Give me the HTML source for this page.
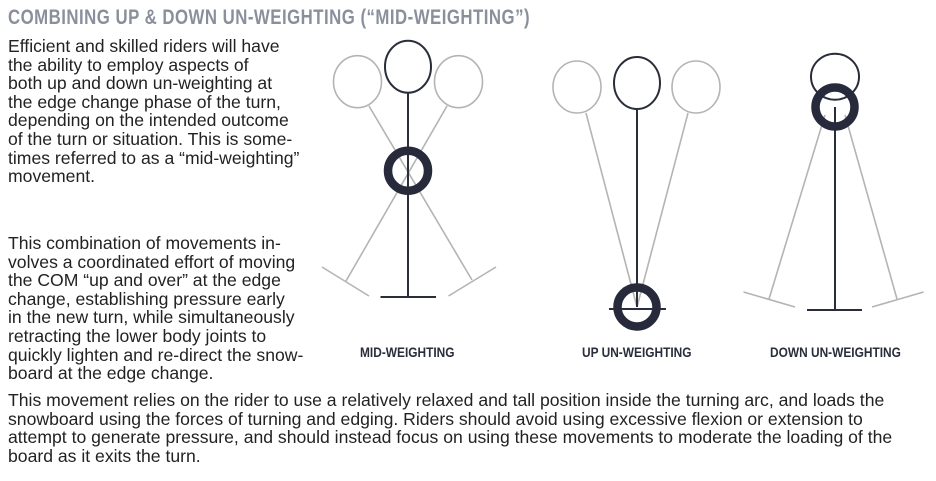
<!DOCTYPE html>
<html><head><meta charset="utf-8"><style>
body{margin:0;width:936px;height:481px;background:#fff;position:relative;overflow:hidden;font-family:"Liberation Sans",sans-serif;color:#222}
.t{position:absolute;font-size:17.6px;line-height:18.6px;white-space:nowrap;left:8px}
.h{position:absolute;left:8px;top:6px;font-family:"Liberation Sans",sans-serif;font-weight:bold;font-size:21px;color:#8a8f9c;letter-spacing:0.6px;white-space:nowrap;transform:scaleX(0.80);transform-origin:left top}
.l{position:absolute;font-family:"Liberation Sans",sans-serif;font-weight:bold;font-size:14px;color:#2a2d3a;white-space:nowrap;top:344px;transform:scaleX(0.85);transform-origin:left top}
svg{position:absolute;left:0;top:0}
</style></head><body>
<div class="h">COMBINING UP &amp; DOWN UN-WEIGHTING (“MID-WEIGHTING”)</div>
<div class="t" style="top:37px">Efficient and skilled riders will have<br>the ability to employ aspects of<br>both up and down un-weighting at<br>the edge change phase of the turn,<br>depending on the intended outcome<br>of the turn or situation. This is some-<br>times referred to as a “mid-weighting”<br>movement.</div>
<div class="t" style="top:234px">This combination of movements in-<br>volves a coordinated effort of moving<br>the COM “up and over” at the edge<br>change, establishing pressure early<br>in the new turn, while simultaneously<br>retracting the lower body joints to<br>quickly lighten and re-direct the snow-<br>board at the edge change.</div>
<div class="t" style="top:391px">This movement relies on the rider to use a relatively relaxed and tall position inside the turning arc, and loads the<br>snowboard using the forces of turning and edging. Riders should avoid using excessive flexion or extension to<br>attempt to generate pressure, and should instead focus on using these movements to moderate the loading of the<br>board as it exits the turn.</div>
<div class="l" style="left:360px">MID-WEIGHTING</div>
<div class="l" style="left:582px">UP UN-WEIGHTING</div>
<div class="l" style="left:770px">DOWN UN-WEIGHTING</div>
<svg width="936" height="481" fill="none">
<g stroke="#b4b4b4" stroke-width="1.6">
<ellipse cx="357.5" cy="81.7" rx="24" ry="26"/>
<ellipse cx="458.5" cy="81.7" rx="24" ry="26"/>
<line x1="369" y1="106" x2="472" y2="280"/>
<line x1="447" y1="106" x2="346" y2="281"/>
<line x1="322" y1="267" x2="369" y2="296"/>
<line x1="448.5" y1="296" x2="496" y2="267"/>
<ellipse cx="577" cy="87" rx="24" ry="26"/>
<ellipse cx="696" cy="87" rx="24" ry="26"/>
<line x1="586" y1="113" x2="637" y2="307"/>
<line x1="688" y1="113" x2="637" y2="307"/>
<line x1="825" y1="115" x2="769" y2="299"/>
<line x1="845" y1="115" x2="897" y2="299"/>
<line x1="743.5" y1="292" x2="795" y2="307"/>
<line x1="872" y1="307" x2="923.6" y2="292"/>
</g>
<g stroke="#2a2d3a" stroke-width="2">
<ellipse cx="408" cy="66.7" rx="23" ry="26"/>
<line x1="408" y1="93" x2="408" y2="297"/>
<line x1="380.5" y1="297" x2="436" y2="297"/>
<ellipse cx="637" cy="83" rx="23" ry="26"/>
<line x1="637" y1="109" x2="637" y2="307"/>
<line x1="609" y1="309" x2="666" y2="309"/>
<ellipse cx="835" cy="76.7" rx="24" ry="23"/>
<line x1="835" y1="107" x2="835" y2="310"/>
<line x1="807" y1="310" x2="862" y2="310"/>
</g>
<g stroke="#262a3b" stroke-width="8.5">
<circle cx="408" cy="170.7" r="20"/>
<circle cx="637" cy="307" r="19.5"/>
<circle cx="835" cy="107" r="19.5"/>
</g>
</svg>
</body></html>
